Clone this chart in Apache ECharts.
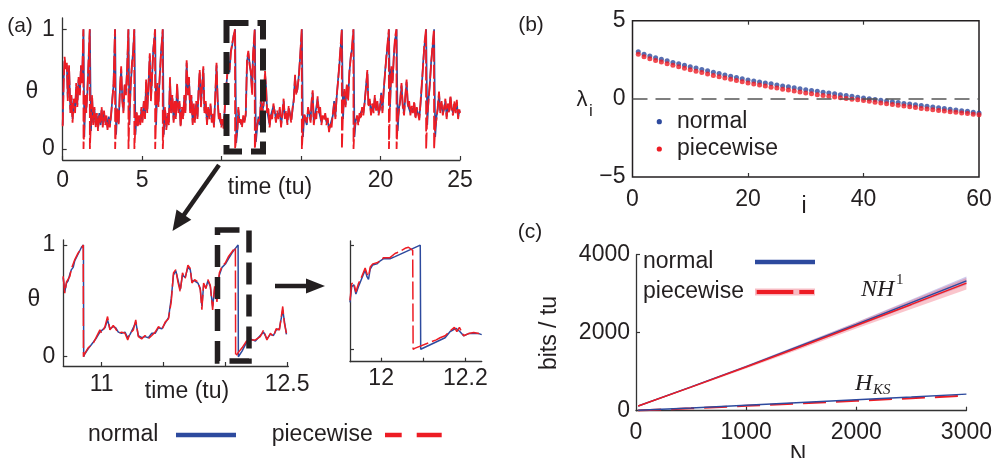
<!DOCTYPE html>
<html>
<head>
<meta charset="utf-8">
<script src="https://cdn.jsdelivr.net/npm/echarts@6/dist/echarts.min.js"></script>
<style>
html,body{margin:0;padding:0;background:#fff;}
#chart{width:995px;height:458px;}
</style>
</head>
<body>
<div id="chart"></div>
<script>
// ---------------- DATA ----------------
// (a) top: full trace, time (tu) and theta
const topTime = [0,0.06,0.12,0.2,0.26,0.32,0.4,0.48,0.55,0.62,0.7,0.78,0.85,0.92,1,1.08,1.15,1.22,1.3,1.31,1.36,1.42,1.48,1.55,1.62,1.7,1.71,
1.78,1.85,1.92,2,2.08,2.15,2.22,2.3,2.38,2.45,2.52,2.6,2.68,2.75,2.82,2.9,2.97,3.05,3.12,3.2,3.29,3.3,
3.36,3.44,3.52,3.6,3.68,3.75,3.82,3.9,3.98,4.06,4.13,4.14,4.2,4.28,4.36,4.43,4.5,4.51,
4.58,4.65,4.72,4.8,4.88,4.95,5.02,5.1,5.18,5.25,5.32,5.4,5.48,5.55,5.62,5.7,5.81,5.82,
5.88,5.95,6.02,6.1,6.18,6.29,6.3,
6.36,6.44,6.52,6.6,6.68,6.75,6.82,6.9,6.98,7.05,7.12,7.2,7.28,7.35,7.42,7.5,7.58,7.65,7.72,7.8,7.88,7.95,8.02,8.1,8.18,8.25,8.32,8.4,8.48,8.55,8.62,8.7,8.78,8.85,8.92,9,9.08,9.15,9.22,9.3,9.38,9.45,9.52,9.6,9.68,9.75,9.82,9.9,9.98,10.05,10.12,10.2,10.28,10.35,10.42,10.5,10.58,10.66,10.75,10.84,10.85,
10.92,11,11.05,11.12,11.2,11.28,11.36,11.44,11.52,11.6,11.68,11.76,11.84,11.92,11.97,12.02,12.08,12.09,
12.16,12.24,12.32,12.4,12.48,12.56,12.64,12.73,12.8,12.86,12.94,13.02,13.1,13.18,13.26,13.34,13.42,13.5,13.58,13.66,13.74,13.82,13.9,13.98,14.06,14.14,14.22,14.3,14.38,14.46,14.54,14.62,14.7,14.78,14.86,14.95,15.04,15.05,
15.12,15.2,15.28,15.36,15.44,15.52,15.6,15.66,15.73,15.8,15.88,15.96,16.04,16.12,16.2,16.28,16.36,16.44,16.52,16.6,16.68,16.76,16.84,16.92,17,17.08,17.16,17.24,17.32,17.4,17.48,17.56,17.57,
17.64,17.72,17.8,17.88,17.96,18.04,18.12,18.2,18.29,18.3,
18.36,18.44,18.52,18.6,18.68,18.76,18.84,18.92,19,19.08,19.17,19.24,19.32,19.4,19.48,19.56,19.64,19.72,19.8,19.88,19.96,20.04,20.12,20.2,20.28,20.36,20.44,20.52,20.53,
20.6,20.68,20.76,20.84,20.92,21,21.01,
21.08,21.16,21.24,21.32,21.4,21.48,21.56,21.64,21.72,21.8,21.88,21.96,22.04,22.12,22.2,22.28,22.36,22.44,22.52,22.6,22.68,22.76,22.86,22.87,
22.94,23.02,23.1,23.18,23.26,23.36,23.37,
23.44,23.52,23.6,23.68,23.76,23.84,23.92,24,24.08,24.16,24.24,24.32,24.4,24.48,24.56,24.64,24.72,24.8,24.88,24.96,25];

const topPiecewise = [0.19,0.55,0.77,0.66,0.72,0.40,0.70,0.30,0.45,0.22,0.42,0.30,0.55,0.35,0.60,0.45,0.70,0.55,1.00,0.00,0.20,0.45,0.30,0.48,0.72,1.00,0.00,
0.25,0.45,0.20,0.35,0.18,0.30,0.15,0.28,0.22,0.35,0.18,0.32,0.20,0.28,0.16,0.25,0.18,0.30,0.40,0.55,1.00,0.00,
0.22,0.35,0.20,0.50,0.69,0.40,0.30,0.55,0.45,0.70,1.00,0.00,0.30,0.55,0.72,0.80,1.00,0.00,
0.20,0.32,0.18,0.28,0.20,0.35,0.22,0.40,0.25,0.58,0.30,0.55,0.80,0.40,0.60,0.82,1.00,0.00,
0.30,0.55,0.35,0.60,0.78,1.00,0.00,
0.20,0.35,0.16,0.30,0.20,0.60,0.30,0.45,0.22,0.40,0.25,0.55,0.30,0.40,0.18,0.35,0.25,0.45,0.30,0.74,0.45,0.60,0.30,0.45,0.20,0.38,0.22,0.40,0.25,0.50,0.66,0.35,0.55,0.69,0.30,0.40,0.20,0.35,0.25,0.38,0.22,0.30,0.18,0.45,0.72,0.40,0.25,0.30,0.18,0.25,0.17,0.35,0.50,0.62,0.72,0.66,0.80,0.88,0.94,1.00,0.00,
0.10,0.18,0.35,0.22,0.25,0.18,0.28,0.22,0.30,0.75,0.82,0.70,0.65,0.45,0.78,0.88,1.00,0.00,
0.12,0.20,0.25,0.22,0.45,0.30,0.38,0.65,0.50,0.30,0.35,0.18,0.30,0.25,0.38,0.30,0.22,0.32,0.25,0.35,0.18,0.30,0.42,0.25,0.32,0.20,0.36,0.28,0.22,0.34,0.40,0.62,0.45,0.52,0.60,0.80,1.00,0.00,
0.18,0.30,0.25,0.22,0.35,0.28,0.22,0.40,0.49,0.20,0.30,0.25,0.44,0.30,0.35,0.20,0.28,0.24,0.30,0.20,0.26,0.14,0.22,0.18,0.30,0.38,0.25,0.45,0.55,0.70,0.85,1.00,0.00,
0.32,0.50,0.35,0.55,0.40,0.65,0.75,0.85,1.00,0.00,
0.18,0.22,0.28,0.20,0.30,0.25,0.35,0.28,0.40,0.50,0.66,0.35,0.42,0.28,0.38,0.30,0.45,0.32,0.40,0.28,0.35,0.45,0.30,0.50,0.62,0.77,0.88,1.00,0.00,
0.40,0.69,0.55,0.80,0.94,1.00,0.00,
0.25,0.32,0.42,0.55,0.35,0.28,0.45,0.58,0.35,0.40,0.28,0.36,0.30,0.40,0.25,0.35,0.30,0.24,0.40,0.55,0.70,0.88,1.00,0.00,
0.28,0.40,0.55,0.70,0.85,1.00,0.00,
0.18,0.25,0.35,0.48,0.30,0.40,0.28,0.35,0.42,0.25,0.38,0.30,0.45,0.32,0.28,0.40,0.30,0.41,0.25,0.33,0.30];

const topNormal = [0.20,0.58,0.74,0.68,0.70,0.43,0.68,0.33,0.43,0.25,0.40,0.32,0.52,0.37,0.58,0.47,0.68,0.57,0.97,1.00,0.10,0.42,0.32,0.46,0.70,0.97,1.00,
0.15,0.43,0.22,0.33,0.20,0.28,0.17,0.30,0.20,0.33,0.20,0.30,0.22,0.26,0.18,0.27,0.20,0.28,0.42,0.53,0.97,1.00,
0.12,0.33,0.22,0.48,0.67,0.42,0.32,0.53,0.47,0.68,0.97,1.00,0.20,0.53,0.70,0.82,0.97,1.00,
0.12,0.30,0.20,0.26,0.22,0.33,0.24,0.38,0.27,0.56,0.32,0.53,0.78,0.42,0.58,0.84,0.97,1.00,
0.20,0.53,0.37,0.58,0.80,0.97,1.00,
0.12,0.33,0.18,0.28,0.22,0.58,0.32,0.43,0.24,0.38,0.27,0.53,0.32,0.38,0.20,0.33,0.27,0.43,0.32,0.72,0.47,0.58,0.32,0.43,0.22,0.36,0.24,0.38,0.27,0.48,0.64,0.37,0.53,0.67,0.32,0.38,0.22,0.33,0.27,0.36,0.24,0.28,0.20,0.43,0.70,0.42,0.27,0.28,0.20,0.23,0.19,0.33,0.52,0.60,0.74,0.64,0.82,0.86,0.95,0.98,1.00,
0.05,0.17,0.33,0.24,0.23,0.20,0.26,0.24,0.28,0.73,0.80,0.72,0.63,0.47,0.76,0.86,0.97,1.00,
0.06,0.18,0.27,0.20,0.43,0.32,0.36,0.63,0.52,0.32,0.33,0.20,0.28,0.27,0.36,0.32,0.24,0.30,0.27,0.33,0.20,0.28,0.40,0.27,0.30,0.22,0.34,0.30,0.24,0.32,0.42,0.60,0.47,0.50,0.62,0.78,0.97,1.00,
0.10,0.28,0.27,0.20,0.33,0.30,0.24,0.38,0.47,0.22,0.28,0.27,0.42,0.32,0.33,0.22,0.26,0.26,0.28,0.22,0.24,0.16,0.20,0.20,0.28,0.40,0.27,0.43,0.57,0.68,0.83,0.97,1.00,
0.25,0.48,0.37,0.53,0.42,0.63,0.77,0.83,0.97,1.00,
0.10,0.24,0.26,0.22,0.28,0.27,0.33,0.30,0.38,0.52,0.64,0.37,0.40,0.30,0.36,0.32,0.43,0.34,0.38,0.30,0.33,0.47,0.32,0.48,0.64,0.75,0.86,0.97,1.00,
0.35,0.67,0.57,0.78,0.92,0.97,1.00,
0.15,0.34,0.40,0.53,0.37,0.30,0.43,0.56,0.37,0.38,0.30,0.34,0.32,0.38,0.27,0.33,0.32,0.26,0.38,0.53,0.72,0.86,0.97,1.00,
0.20,0.42,0.53,0.72,0.83,0.97,1.00,
0.10,0.27,0.33,0.46,0.32,0.38,0.30,0.33,0.40,0.27,0.36,0.32,0.43,0.34,0.30,0.38,0.32,0.39,0.27,0.31,0.32];

// (a) bottom-left detail: [time, theta]
const detailPiecewise = [[10.689,0.72],[10.702,0.57],[10.716,0.67],[10.729,0.66],[10.743,0.72],[10.756,0.79],[10.77,0.78],[10.783,0.87],[10.81,0.93],[10.837,0.97],[10.851,1.0],[10.853,0.0],[10.859,0.02],[10.891,0.08],[10.932,0.12],[10.959,0.18],[10.986,0.24],[11.0,0.21],[11.027,0.27],[11.048,0.36],[11.067,0.24],[11.094,0.28],[11.113,0.25],[11.135,0.21],[11.162,0.22],[11.189,0.21],[11.211,0.15],[11.23,0.21],[11.257,0.24],[11.276,0.33],[11.297,0.18],[11.324,0.16],[11.351,0.19],[11.378,0.16],[11.406,0.19],[11.433,0.22],[11.46,0.27],[11.487,0.24],[11.514,0.31],[11.541,0.34],[11.563,0.49],[11.581,0.75],[11.6,0.78],[11.617,0.67],[11.636,0.58],[11.654,0.75],[11.676,0.70],[11.698,0.82],[11.717,0.79],[11.73,0.66],[11.752,0.69],[11.779,0.67],[11.798,0.60],[11.811,0.42],[11.825,0.66],[11.844,0.61],[11.86,0.69],[11.879,0.64],[11.898,0.42],[11.914,0.63],[11.933,0.49],[11.952,0.75],[11.974,0.81],[12.001,0.84],[12.028,0.90],[12.055,0.94],[12.082,0.98],[12.084,0.0],[12.1,0.03],[12.136,0.08],[12.177,0.15],[12.204,0.15],[12.244,0.15],[12.283,0.18],[12.31,0.24],[12.337,0.15],[12.365,0.21],[12.39,0.18],[12.412,0.25],[12.438,0.24],[12.465,0.45],[12.478,0.30],[12.495,0.21]];
const detailNormal = [[10.689,0.71],[10.702,0.58],[10.716,0.66],[10.729,0.68],[10.743,0.74],[10.756,0.78],[10.77,0.80],[10.783,0.86],[10.81,0.92],[10.837,0.98],[10.853,1.0],[10.855,0.0],[10.861,0.02],[10.891,0.07],[10.932,0.13],[10.959,0.17],[10.986,0.22],[11.0,0.22],[11.027,0.26],[11.048,0.33],[11.067,0.25],[11.094,0.27],[11.113,0.26],[11.135,0.22],[11.162,0.21],[11.189,0.22],[11.211,0.17],[11.23,0.20],[11.257,0.26],[11.276,0.31],[11.297,0.19],[11.324,0.17],[11.351,0.18],[11.378,0.17],[11.406,0.21],[11.433,0.21],[11.46,0.26],[11.487,0.25],[11.514,0.30],[11.541,0.35],[11.563,0.52],[11.581,0.73],[11.6,0.77],[11.617,0.69],[11.636,0.60],[11.654,0.73],[11.676,0.71],[11.698,0.80],[11.717,0.78],[11.73,0.68],[11.752,0.68],[11.779,0.66],[11.798,0.61],[11.811,0.45],[11.825,0.64],[11.844,0.62],[11.86,0.68],[11.879,0.63],[11.898,0.45],[11.914,0.61],[11.933,0.52],[11.952,0.73],[11.974,0.80],[12.001,0.83],[12.028,0.88],[12.055,0.93],[12.082,0.97],[12.104,1.0],[12.106,0.0],[12.136,0.05],[12.177,0.14],[12.204,0.16],[12.244,0.14],[12.283,0.19],[12.31,0.22],[12.337,0.16],[12.365,0.20],[12.39,0.19],[12.412,0.24],[12.438,0.25],[12.465,0.42],[12.478,0.32],[12.495,0.20]];

// (a) bottom-right zoom: [time, theta]
const zoomPiecewise = [[11.926,0.47],[11.93,0.63],[11.935,0.64],[11.94,0.55],[11.946,0.63],[11.952,0.68],[11.958,0.74],[11.962,0.78],[11.966,0.73],[11.97,0.70],[11.974,0.79],[11.98,0.82],[11.99,0.83],[11.998,0.85],[12.006,0.88],[12.013,0.88],[12.021,0.88],[12.033,0.92],[12.045,0.94],[12.057,0.97],[12.065,0.98],[12.075,0.95],[12.076,0.0],[12.081,0.01],[12.131,0.09],[12.14,0.11],[12.152,0.13],[12.165,0.18],[12.174,0.21],[12.18,0.17],[12.186,0.21],[12.196,0.13],[12.208,0.15],[12.22,0.16],[12.232,0.15],[12.239,0.13]];
const zoomNormal = [[11.926,0.45],[11.93,0.60],[11.935,0.62],[11.94,0.53],[11.946,0.60],[11.952,0.66],[11.958,0.72],[11.962,0.76],[11.966,0.70],[11.97,0.67],[11.974,0.77],[11.98,0.81],[11.99,0.82],[11.998,0.85],[12.006,0.87],[12.013,0.87],[12.021,0.87],[12.033,0.89],[12.093,1.0],[12.094,0.0],[12.152,0.11],[12.164,0.17],[12.178,0.20],[12.187,0.17],[12.196,0.13],[12.208,0.15],[12.22,0.15],[12.232,0.15],[12.239,0.14]];

// (b) Lyapunov spectrum
const lyapIndex = [1,2,3,4,5,6,7,8,9,10,11,12,13,14,15,16,17,18,19,20,21,22,23,24,25,26,27,28,29,30,31,32,33,34,35,36,37,38,39,40,41,42,43,44,45,46,47,48,49,50,51,52,53,54,55,56,57,58,59,60];
const lyapNormal = [3.02,2.86,2.74,2.63,2.53,2.43,2.33,2.24,2.15,2.06,1.97,1.88,1.79,1.70,1.62,1.53,1.45,1.37,1.29,1.21,1.15,1.08,1.02,0.96,0.89,0.83,0.77,0.71,0.65,0.59,0.54,0.48,0.43,0.38,0.32,0.27,0.22,0.16,0.11,0.06,0.01,-0.04,-0.09,-0.14,-0.19,-0.24,-0.29,-0.33,-0.38,-0.43,-0.48,-0.52,-0.57,-0.62,-0.66,-0.71,-0.76,-0.80,-0.85,-0.90];
const lyapPiecewise = [2.85,2.70,2.57,2.46,2.35,2.25,2.15,2.05,1.95,1.86,1.77,1.68,1.59,1.50,1.42,1.34,1.26,1.18,1.10,1.02,0.95,0.88,0.82,0.75,0.69,0.62,0.56,0.50,0.44,0.38,0.33,0.27,0.22,0.17,0.12,0.07,0.03,-0.02,-0.06,-0.11,-0.16,-0.21,-0.26,-0.31,-0.36,-0.41,-0.46,-0.51,-0.56,-0.61,-0.65,-0.70,-0.74,-0.78,-0.82,-0.86,-0.90,-0.94,-0.98,-1.02];

// (c) entropy rates vs N (bits / tu)
const entropyN = [20,500,1000,1500,2000,2500,3000];
const nh1Normal = [120,610,1130,1670,2210,2770,3330];
const nh1NormalLow = [110,595,1105,1630,2155,2690,3230];
const nh1NormalHigh = [130,625,1160,1710,2270,2850,3440];
const nh1Piecewise = [120,605,1120,1645,2185,2725,3270];
const nh1PiecewiseLow = [110,585,1085,1590,2110,2610,3110];
const nh1PiecewiseHigh = [130,625,1155,1700,2260,2830,3400];
const hksNormal = [10,70,140,210,280,350,425];
const hksPiecewise = [5,60,125,190,255,320,385];

// tick values / labels
const aTopXTicks = [0,5,10,15,20,25];
const aTopXLabels = [0,5,20,25];
const aYTicks = [0,1];
const aDetailXTicks = [11,11.5,12,12.5];
const aDetailXLabels = [11,12.5];
const aZoomXTicks = [12,12.1,12.2];
const aZoomXLabels = [12,12.2];
const bXTicks = [20,40];
const bXLabels = [0,20,40,60];
const bYLabels = [-5,0,5];
const cXTicks = [1000,2000,3000];
const cXLabels = [0,1000,2000,3000];
const cYTicks = [0,2000,4000];
const cYLabels = [0,2000,4000];

// ---------------- STYLE ----------------
const FONT = '"Liberation Sans", Arial, Helvetica, sans-serif';
const SERIF = '"Liberation Serif", "DejaVu Serif", serif';
const TXT = '#231f20';
const AX = '#333333';
const BLUE = '#2d4a9e';
const RED = '#ed1c24';
const FS = 23;

const plain = v => String(v).replace('-', '\u2212');

function ax(grid, min, max, ticks, labels, margin, o) {
  o = o || {};
  const a = {
    type: 'value', gridIndex: grid, min: min, max: max,
    splitLine: {show: false},
    axisLine: {show: o.line !== false, onZero: false, lineStyle: {color: AX, width: 1.3}},
    axisTick: {show: ticks.length > 0, inside: true, length: 4, customValues: ticks, lineStyle: {color: AX, width: 1.2}},
    axisLabel: {show: labels.length > 0, customValues: labels, margin: margin, color: TXT, fontFamily: FONT, fontSize: FS, formatter: plain}
  };
  if (o.position) a.position = o.position;
  if (o.pad) a.axisLabel.padding = o.pad;
  return a;
}
function zip(xs, ys) { return xs.map((x, i) => [x, ys[i]]); }
function lineS(xi, data, color, width, dash, z) {
  return {type: 'line', xAxisIndex: xi, yAxisIndex: xi, data: data, showSymbol: false, symbol: 'none',
    lineStyle: {color: color, width: width, type: dash || 'solid'}, silent: true, z: z || 2, animation: false};
}
function bandS(lo, hi, color) {
  return {
    type: 'custom', xAxisIndex: 4, yAxisIndex: 4, silent: true, z: 1,
    data: entropyN.map((n, i) => [n, lo[i], hi[i]]),
    encode: {x: 0, y: [1, 2]},
    renderItem: function (params, api) {
      if (params.dataIndex !== 0) return null;
      const top = entropyN.map((n, i) => api.coord([n, hi[i]]));
      const bot = entropyN.map((n, i) => api.coord([n, lo[i]])).reverse();
      return {type: 'polygon', shape: {points: top.concat(bot)}, style: {fill: color}};
    }
  };
}
function txt(x, y, s, o) {
  o = o || {};
  return {type: 'text', x: x, y: y, rotation: o.rot || 0, silent: true, z: 100,
    style: {text: s, fill: o.color || TXT, font: (o.style || '') + ' ' + (o.size || FS) + 'px ' + (o.family || FONT),
      textAlign: o.align || 'center', textVerticalAlign: 'middle'}};
}
function seg(x1, y1, x2, y2, color, w, dash) {
  return {type: 'line', silent: true, z: 100, shape: {x1: x1, y1: y1, x2: x2, y2: y2},
    style: {stroke: color, lineWidth: w, lineDash: dash || null}};
}
function poly(points, color) {
  return {type: 'polygon', silent: true, z: 100, shape: {points: points}, style: {fill: color}};
}

const option = {
  animation: false,
  backgroundColor: '#ffffff',
  textStyle: {fontFamily: FONT},
  grid: [
    {left: 62.7, top: 18, width: 397.3, height: 142},
    {left: 63.3, top: 240, width: 225, height: 126},
    {left: 350, top: 241, width: 131.7, height: 120.7},
    {left: 632.5, top: 20.7, width: 346.5, height: 156.3, show: true, borderColor: TXT, borderWidth: 1.5, backgroundColor: 'transparent'},
    {left: 636, top: 254.7, width: 331.3, height: 156}
  ],
  xAxis: [
    ax(0, 0, 25, aTopXTicks, aTopXLabels, 9),
    ax(1, 10.69, 12.51, aDetailXTicks, aDetailXLabels, 7),
    ax(2, 11.926, 12.239, aZoomXTicks, aZoomXLabels, 5),
    ax(3, 0, 60, bXTicks, bXLabels, 11, {line: false}),
    ax(4, 0, 3000, cXTicks, cXLabels, 10),
    ax(3, 0, 60, bXTicks, [], 0, {line: false, position: 'top'})
  ],
  yAxis: [
    ax(0, -0.092, 1.094, aYTicks, aYTicks, 8, {pad: [5, 0, 0, 0]}),
    ax(1, -0.083, 1.045, aYTicks, aYTicks, 8, {pad: [3, 0, 0, 0]}),
    ax(2, -0.12, 1.04, aYTicks, [], 8),
    ax(3, -5, 5, [], bYLabels, 7, {line: false, pad: [5, 0, 0, 0]}),
    ax(4, 0, 4000, cYTicks, cYLabels, 6)
  ],
  series: [
    lineS(0, zip(topTime, topNormal), BLUE, 1.7),
    lineS(0, zip(topTime, topPiecewise), RED, 1.8, [14, 3]),
    lineS(1, detailNormal, BLUE, 1.5),
    lineS(1, detailPiecewise, RED, 1.5, [18, 4]),
    lineS(2, zoomNormal, BLUE, 1.5),
    lineS(2, zoomPiecewise, RED, 1.5, [18, 4]),
    {type: 'scatter', xAxisIndex: 3, yAxisIndex: 3, data: zip(lyapIndex, lyapNormal), symbolSize: 5,
      itemStyle: {color: BLUE}, silent: true,
      markLine: {silent: true, symbol: 'none', label: {show: false}, animation: false,
        lineStyle: {color: '#555555', type: [15, 8], width: 1.5}, data: [{yAxis: 0}]}},
    {type: 'scatter', xAxisIndex: 3, yAxisIndex: 3, data: zip(lyapIndex, lyapPiecewise), symbolSize: 5,
      itemStyle: {color: RED}, silent: true},
    bandS(nh1NormalLow, nh1NormalHigh, 'rgba(110,100,200,0.35)'),
    bandS(nh1PiecewiseLow, nh1PiecewiseHigh, 'rgba(240,90,110,0.35)'),
    {type: 'line', xAxisIndex: 4, yAxisIndex: 4, data: zip(entropyN, nh1Normal), showSymbol: false, symbol: 'none', silent: true, lineStyle: {color: BLUE, width: 1.5}},
    {type: 'line', xAxisIndex: 4, yAxisIndex: 4, data: zip(entropyN, nh1Piecewise), showSymbol: false, symbol: 'none', silent: true, lineStyle: {color: RED, width: 1.5}},
    {type: 'line', xAxisIndex: 4, yAxisIndex: 4, data: zip(entropyN, hksPiecewise), showSymbol: false, symbol: 'none', silent: true, lineStyle: {color: RED, width: 2, type: [23, 10]}},
    {type: 'line', xAxisIndex: 4, yAxisIndex: 4, data: zip(entropyN, hksNormal), showSymbol: false, symbol: 'none', silent: true, lineStyle: {color: BLUE, width: 1.5}}
  ],
  graphic: {elements: [
    // panel labels
    txt(20, 26, '(a)', {size: 21}),
    txt(531, 25, '(b)', {size: 21}),
    txt(530, 232, '(c)', {size: 21}),
    // (a) axis names
    txt(32, 92, '\u03b8', {size: FS}),
    txt(34, 300, '\u03b8', {size: FS}),
    txt(270, 188, 'time (tu)'),
    txt(187, 392, 'time (tu)'),
    // (b) axis names
    txt(582, 100, '\u03bb', {size: 22}),
    txt(591, 111, 'i', {size: 17}),
    txt(804, 207, 'i'),
    // (c) axis names
    txt(550, 333, 'bits / tu', {rot: Math.PI / 2}),
    txt(798, 456, 'N'),
    // (c) annotations
    txt(861, 290, 'NH', {family: SERIF, style: 'italic', size: 24, align: 'left'}),
    txt(896, 280, '1', {family: SERIF, size: 15, align: 'left'}),
    txt(855, 384, 'H', {family: SERIF, style: 'italic', size: 24, align: 'left'}),
    txt(873, 390, 'KS', {family: SERIF, style: 'italic', size: 15, align: 'left'}),
    // dashed boxes
    {type: 'rect', silent: true, z: 90, shape: {x: 226.5, y: 23, width: 36.5, height: 128.5},
      style: {fill: 'none', stroke: TXT, lineWidth: 6, lineDash: [22, 9]}},
    {type: 'rect', silent: true, z: 90, shape: {x: 217.5, y: 230, width: 31.5, height: 131},
      style: {fill: 'none', stroke: TXT, lineWidth: 5.5, lineDash: [22, 10]}},
    // arrows
    seg(219, 165, 181, 219, TXT, 4.5),
    poly([[172.5, 231], [191.3, 219.7], [176.5, 209.5]], TXT),
    seg(275, 286, 309, 286, TXT, 4.5),
    poly([[325, 286], [306, 278.5], [306, 293.5]], TXT),
    // (a) legend
    txt(88, 435, 'normal', {align: 'left'}),
    seg(176, 435, 236, 435, BLUE, 4.5),
    txt(271.7, 435, 'piecewise', {align: 'left'}),
    seg(385, 435, 401.7, 435, RED, 4.5),
    seg(416.7, 435, 441.7, 435, RED, 4.5),
    // (b) legend
    {type: 'circle', silent: true, z: 100, shape: {cx: 659.3, cy: 121.7, r: 2.6}, style: {fill: BLUE}},
    txt(677, 121.7, 'normal', {align: 'left'}),
    {type: 'circle', silent: true, z: 100, shape: {cx: 659.3, cy: 149, r: 2.6}, style: {fill: RED}},
    txt(677, 149, 'piecewise', {align: 'left'}),
    // (c) legend
    txt(643, 262, 'normal', {align: 'left'}),
    seg(755, 262, 815, 262, BLUE, 4.5),
    txt(643, 292, 'piecewise', {align: 'left'}),
    {type: 'rect', silent: true, z: 99, shape: {x: 755, y: 288.5, width: 60, height: 7}, style: {fill: 'rgba(240,120,135,0.5)'}},
    seg(756.7, 292, 793.3, 292, RED, 4),
    seg(799.3, 292, 814, 292, RED, 4)
  ]}
};

const chart = echarts.init(document.getElementById('chart'), null, {renderer: 'canvas'});
chart.setOption(option);
</script>
</body>
</html>
